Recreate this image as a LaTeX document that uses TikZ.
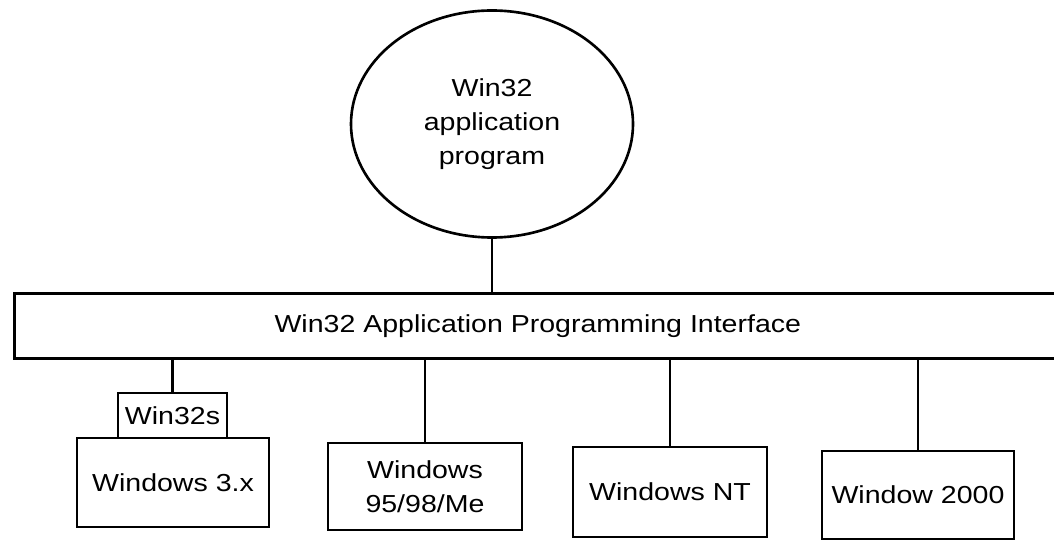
\documentclass[tikz,border=0pt]{standalone}
\usepackage{fontspec}
\setmainfont{Liberation Sans}[FakeStretch=1.16]
\usepackage{tikz}
\usetikzlibrary{shapes.geometric}

\begin{document}
\begin{tikzpicture}[line width=1.5pt,
  font=\fontsize{14}{19.4}\selectfont,
  osbox/.style={draw, align=center, inner sep=0pt}]
  \useasboundingbox (0,0) rectangle (21.08,10.82);
  \node[draw, ellipse, align=center, inner sep=0pt,
    minimum width=5.64cm, minimum height=4.54cm] (app) at (9.84,8.34)
    {Win32\\application\\program};
  \node[draw, inner sep=0pt, anchor=north west,
    minimum width=20.94cm, minimum height=1.3cm] (api) at (0.26,4.98)
    {Win32 Application Programming Interface};
  \node[osbox, minimum width=2.18cm, minimum height=0.9cm] (w32s) at (3.45,2.51) {Win32s};
  \node[osbox, minimum width=3.84cm, minimum height=1.78cm] (w3x) at (3.46,1.17) {Windows 3.x};
  \node[osbox, minimum width=3.88cm, minimum height=1.74cm] (w9x) at (8.5,1.09) {Windows\\95/98/Me};
  \node[osbox, minimum width=3.88cm, minimum height=1.8cm] (wnt) at (13.4,0.98) {Windows NT};
  \node[osbox, minimum width=3.84cm, minimum height=1.76cm] (w2k) at (18.36,0.92) {Window 2000};
  \draw (app.south) -- (app.south |- api.north);
  \foreach \n in {w32s,w9x,wnt,w2k}
    \draw (\n.north) -- (\n.north |- api.south);
\end{tikzpicture}
\end{document}
